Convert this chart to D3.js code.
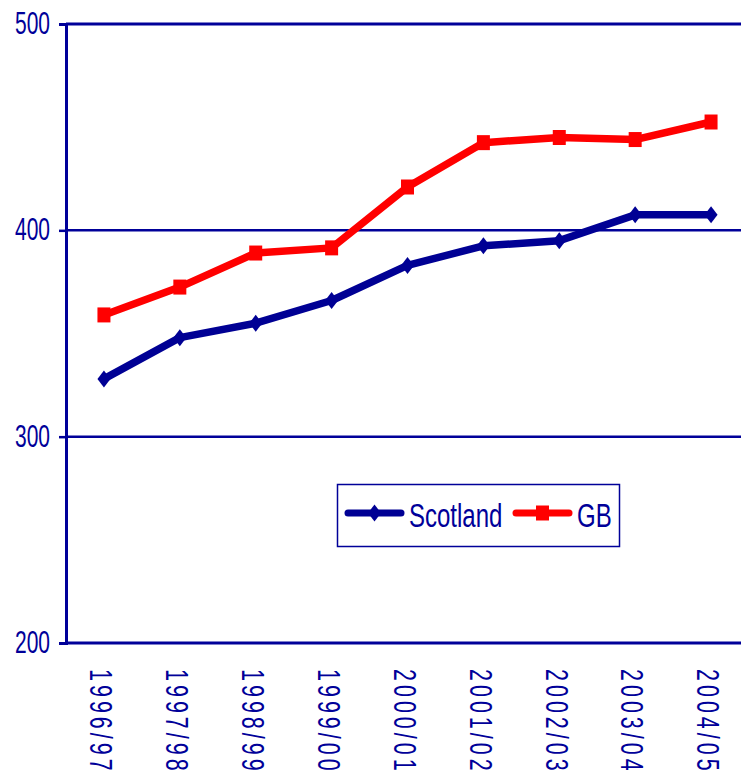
<!DOCTYPE html>
<html><head><meta charset="utf-8">
<script src="https://cdn.jsdelivr.net/npm/d3@7"></script>
<style>body{margin:0;background:#fff}svg{display:block}</style>
</head><body>
<svg id="c" width="741" height="774"></svg>
<script>
const categories = ["1996/97","1997/98","1998/99","1999/00","2000/01","2001/02","2002/03","2003/04","2004/05"];
const scotland = [328, 348, 355, 366, 383, 392.5, 395, 407.5, 407.5];
const gb = [359, 372.5, 389, 391.5, 421, 442.5, 445, 444, 452.5];
const yTicks = [200, 300, 400, 500];
const seriesNames = ["Scotland", "GB"];

const navy = "#000094", red = "#ff0000", axisCol = "#000099";
const svg = d3.select("#c");
const L = 66, R = 749, T = 24, B = 643;
const x = d3.scaleBand().domain(categories).range([L, R]);
const y = d3.scaleLinear().domain([200, 500]).range([B, T]);
const cx = d => x(d) + x.bandwidth() / 2;

// gridlines
svg.append("g").selectAll("line").data(yTicks.filter(v => v > 200)).join("line")
  .attr("x1", L).attr("x2", 741).attr("y1", d => y(d)).attr("y2", d => y(d))
  .attr("stroke", axisCol).attr("stroke-width", d => d === 500 ? 3 : 2.5);

// y axis
const yAxis = svg.append("g").attr("transform", `translate(${L},0)`)
  .call(d3.axisLeft(y).tickValues(yTicks).tickSize(7).tickPadding(0).tickFormat(d3.format("d")));
yAxis.select(".domain").attr("stroke", axisCol).attr("stroke-width", 3);
yAxis.selectAll(".tick line").attr("stroke", axisCol).attr("stroke-width", 2.5);
yAxis.selectAll(".tick text").remove();
yAxis.selectAll(".tick").append("text")
  .attr("transform", "translate(-16,0) scale(1,1.53)")
  .attr("text-anchor", "end").attr("dy", "0.3em")
  .attr("fill", axisCol).attr("font-family", "Liberation Sans, Arial, sans-serif")
  .attr("font-size", 21).text(d => d);

// x axis
const xAxis = svg.append("g").attr("transform", `translate(0,${B})`)
  .call(d3.axisBottom(x).tickSize(0).tickPadding(0));
xAxis.select(".domain").attr("stroke", axisCol).attr("stroke-width", 3).attr("d", `M${L},0H741`);
xAxis.selectAll(".tick text").remove();
xAxis.selectAll(".tick").append("text")
  .attr("transform", "translate(-3,26) rotate(90) scale(1,1.42)")
  .attr("text-anchor", "start").attr("dy", "0.35em").attr("letter-spacing", 4)
  .attr("fill", axisCol).attr("font-family", "Liberation Sans, Arial, sans-serif")
  .attr("font-size", 21.5).text(d => d);

// lines
const line = d3.line().x((d, i) => cx(categories[i])).y(d => y(d));
const series = [{name: seriesNames[0], vals: scotland, col: navy, marker: "diamond"},
                {name: seriesNames[1], vals: gb, col: red, marker: "square"}];
const diamond = "M0,-8.5L6.5,0L0,8.5L-6.5,0Z";
const square = "M-6.5,-7.5H6.5V7.5H-6.5Z";
series.forEach(s => {
  svg.append("path").datum(s.vals).attr("d", line).attr("fill", "none")
    .attr("stroke", s.col).attr("stroke-width", 7.5).attr("stroke-linejoin", "round").attr("stroke-linecap", "round");
  svg.append("g").selectAll("path").data(s.vals).join("path")
    .attr("transform", (d, i) => `translate(${cx(categories[i])},${y(d)})`)
    .attr("d", s.marker === "diamond" ? diamond : square).attr("fill", s.col);
});

// legend
const lg = svg.append("g");
lg.append("rect").attr("x", 337.5).attr("y", 484.5).attr("width", 282).attr("height", 62)
  .attr("fill", "#fff").attr("stroke", axisCol).attr("stroke-width", 1.5);
const legItems = [{s: series[0], x1: 348, x2: 401, tx: 409}, {s: series[1], x1: 516, x2: 569, tx: 577}];
legItems.forEach(it => {
  lg.append("line").attr("x1", it.x1).attr("x2", it.x2).attr("y1", 513).attr("y2", 513)
    .attr("stroke", it.s.col).attr("stroke-width", 7).attr("stroke-linecap", "round");
  lg.append("path").attr("transform", `translate(${(it.x1 + it.x2) / 2},513)`)
    .attr("d", it.s.marker === "diamond" ? diamond : square).attr("fill", it.s.col);
  lg.append("text").attr("transform", `translate(${it.tx},515) scale(1,1.4)`)
    .attr("dy", "0.35em").attr("fill", axisCol)
    .attr("font-family", "Liberation Sans, Arial, sans-serif").attr("font-size", 24).text(it.s.name);
});
</script>
</body></html>
